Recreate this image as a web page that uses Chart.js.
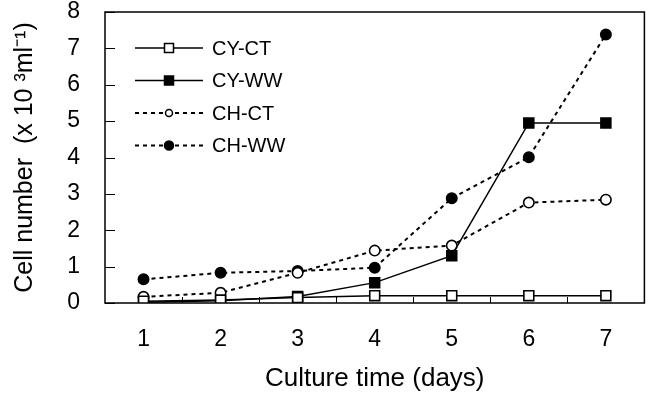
<!DOCTYPE html>
<html>
<head>
<meta charset="UTF-8">
<title>Cell number vs culture time</title>
<style>
    html, body { margin: 0; padding: 0; background: #fff; }
    #wrap { position: relative; width: 653px; height: 395px; }
</style>
<script src="https://cdn.jsdelivr.net/npm/chart.js"></script>
</head>
<body>
<div id="wrap"><canvas id="cellChart"></canvas></div>
<script>
    // data
    const days = ['1', '2', '3', '4', '5', '6', '7'];
    const cyCT = [0.05, 0.08, 0.15, 0.2, 0.2, 0.2, 0.2];
    const cyWW = [0.02, 0.06, 0.18, 0.56, 1.3, 4.95, 4.95];
    const chCT = [0.17, 0.28, 0.83, 1.44, 1.58, 2.76, 2.84];
    const chWW = [0.65, 0.83, 0.88, 0.97, 2.88, 4.01, 7.38];
    const yTicks = [0, 1, 2, 3, 4, 5, 6, 7, 8];

    const FONT = "'Liberation Sans', Arial, sans-serif";

    function series(label, data, style, filled, dashed) {
        return {
            label: label,
            data: data,
            borderColor: '#000',
            borderWidth: dashed ? 2 : 1.5,
            borderDash: dashed ? [4, 4] : [],
            pointStyle: style,
            pointRadius: style === 'rect' ? 7 : 5.2,
            pointBackgroundColor: filled ? '#000' : '#fff',
            pointBorderColor: '#000',
            pointBorderWidth: 1.6,
            fill: false,
            tension: 0
        };
    }

    // frame, inward tick marks and the in-plot legend
    const decor = {
        id: 'decor',
        afterDraw(chart) {
            const ctx = chart.ctx;
            const a = chart.chartArea;
            const y = chart.scales.y;
            ctx.save();
            ctx.strokeStyle = '#000';
            ctx.lineWidth = 1.5;
            ctx.setLineDash([]);
            ctx.strokeRect(a.left, a.top, a.right - a.left, a.bottom - a.top);
            ctx.lineWidth = 1;
            ctx.beginPath();
            yTicks.forEach(v => {
                const py = Math.round(y.getPixelForValue(v)) + 0.5;
                ctx.moveTo(a.left, py);
                ctx.lineTo(a.left + 10, py);
            });
            const step = (a.right - a.left) / days.length;
            for (let i = 1; i < days.length; i++) {
                const px = Math.round(a.left + i * step) + 0.5;
                ctx.moveTo(px, a.bottom);
                ctx.lineTo(px, a.bottom - 6);
            }
            ctx.stroke();

            // legend
            const lx0 = a.left + 30, lx1 = a.left + 98, tx = a.left + 107;
            let ly = a.top + 36;
            ctx.font = '20px ' + FONT;
            ctx.textBaseline = 'middle';
            ctx.fillStyle = '#000';
            chart.data.datasets.forEach(ds => {
                ctx.lineWidth = ds.borderWidth;
                ctx.setLineDash(ds.borderDash);
                ctx.beginPath();
                ctx.moveTo(lx0, ly);
                ctx.lineTo(lx1, ly);
                ctx.stroke();
                ctx.setLineDash([]);
                const cx = (lx0 + lx1) / 2;
                ctx.lineWidth = 1.5;
                ctx.fillStyle = ds.pointBackgroundColor;
                ctx.beginPath();
                if (ds.pointStyle === 'rect') {
                    ctx.rect(cx - 4.5, ly - 4.5, 9, 9);
                } else {
                    const r = ds.pointBackgroundColor === '#000' ? 4.5 : 3.5;
                    ctx.arc(cx, ly, r, 0, Math.PI * 2);
                }
                ctx.fill();
                ctx.stroke();
                ctx.fillStyle = '#000';
                ctx.fillText(ds.label, tx, ly + 1);
                ly += 32.5;
            });
            ctx.restore();
        }
    };

    new Chart(document.getElementById('cellChart'), {
        type: 'line',
        data: {
            labels: days,
            datasets: [
                series('CY-CT', cyCT, 'rect', false, false),
                series('CY-WW', cyWW, 'rect', true, false),
                series('CH-CT', chCT, 'circle', false, true),
                series('CH-WW', chWW, 'circle', true, true)
            ]
        },
        options: {
            responsive: true,
            maintainAspectRatio: false,
            animation: false,
            layout: { padding: { top: 12, right: 6, left: 0, bottom: 0 } },
            plugins: { legend: { display: false }, tooltip: { enabled: false } },
            scales: {
                x: {
                    type: 'category',
                    offset: true,
                    grid: { display: false },
                    border: { display: false },
                    ticks: { color: '#000', font: { family: FONT, size: 23 }, padding: 15, maxRotation: 0 },
                    title: {
                        display: true,
                        text: 'Culture time (days)',
                        color: '#000',
                        font: { family: FONT, size: 26 },
                        padding: { top: 0, bottom: 1 }
                    },
                    afterFit(s) { s.height = 92; s.paddingLeft = 0; s.paddingRight = 0; }
                },
                y: {
                    min: 0,
                    max: 8,
                    grid: { display: false },
                    border: { display: false },
                    ticks: { stepSize: 1, color: '#000', font: { family: FONT, size: 23 }, padding: 17 },
                    title: {
                        display: true,
                        text: 'Cell number  (x 10 \u00B3ml\u207B\u00B9)',
                        color: '#000',
                        font: { family: FONT, size: 25 },
                        padding: { top: 10, bottom: 0 }
                    },
                    afterFit(s) { s.width = 105; s.paddingTop = 0; s.paddingBottom = 0; }
                }
            }
        },
        plugins: [decor]
    });
</script>
</body>
</html>
